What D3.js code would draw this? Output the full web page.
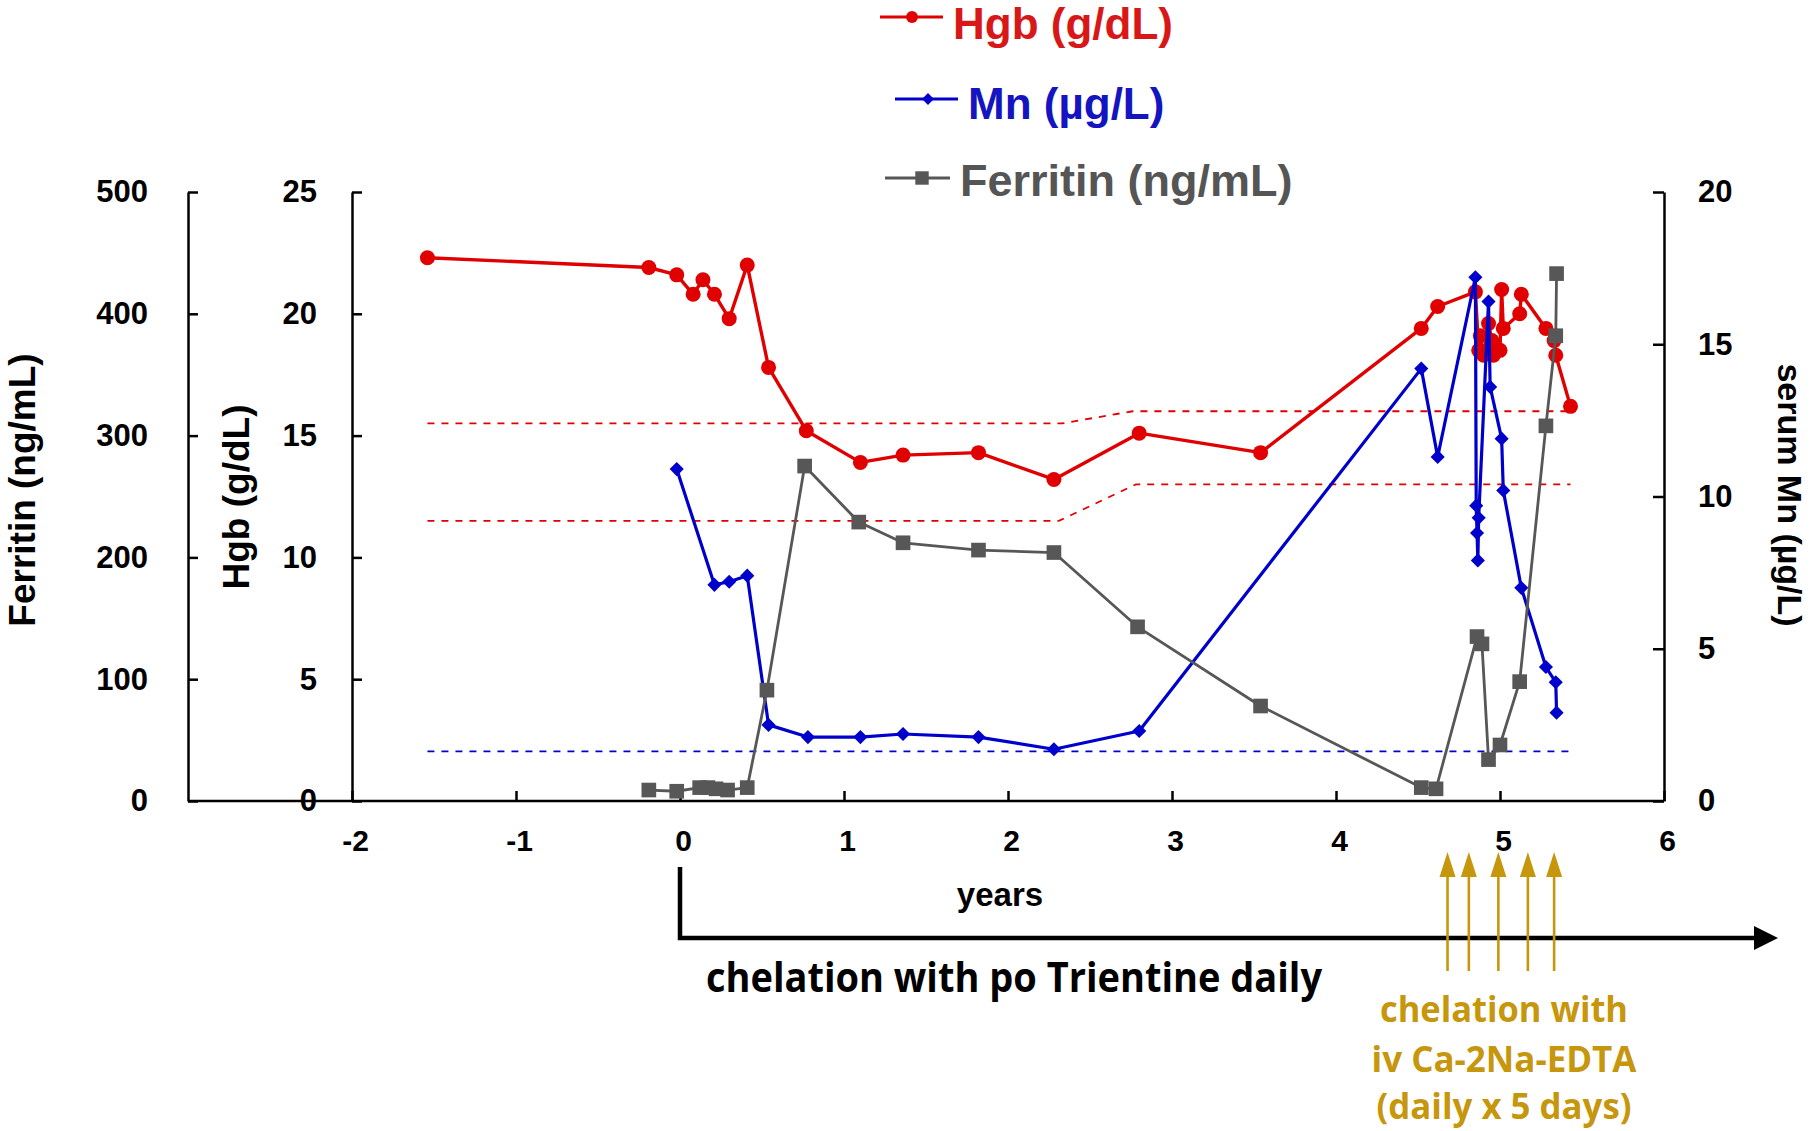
<!DOCTYPE html>
<html>
<head>
<meta charset="utf-8">
<script src="https://cdn.jsdelivr.net/npm/d3@7"></script>
<style>
  body { margin: 0; background: #fff; }
  svg { display: block; }
  text { font-family: "Liberation Sans", Arial, sans-serif; font-weight: bold; }
  .calibri { font-family: "Open Sans", "Noto Sans", sans-serif; font-weight: 700; }
</style>
</head>
<body>
<svg id="chart"></svg>
<script>
// ---- data (years since start of po Trientine) ----
const hgbYears = [-1.54, -0.19, -0.02, 0.08, 0.14, 0.21, 0.30, 0.41, 0.54, 0.77, 1.10, 1.36, 1.82, 2.28, 2.80, 3.54,
                  4.52, 4.62, 4.85, 4.87, 4.88, 4.90, 4.93, 4.95, 4.96, 5.00, 5.01, 5.02, 5.12, 5.13, 5.28, 5.33, 5.34, 5.43];
const hgbValues = [22.3, 21.9, 21.6, 20.8, 21.4, 20.8, 19.8, 22.0, 17.8, 15.2, 13.9, 14.2, 14.3, 13.2, 15.1, 14.3,
                   19.4, 20.3, 20.9, 18.5, 19.1, 18.3, 19.6, 18.9, 18.3, 18.5, 21.0, 19.4, 20.0, 20.8, 19.4, 18.9, 18.3, 16.2];

const mnYears = [-0.02, 0.21, 0.30, 0.41, 0.54, 0.78, 1.10, 1.36, 1.82, 2.28, 2.80, 4.52, 4.62,
                 4.85, 4.855, 4.86, 4.865, 4.87, 4.93, 4.94, 5.01, 5.02, 5.13, 5.28, 5.34, 5.345];
const mnValues = [10.9, 7.1, 7.2, 7.4, 2.5, 2.1, 2.1, 2.2, 2.1, 1.7, 2.3, 14.2, 11.3,
                  17.2, 9.7, 8.8, 7.9, 9.3, 16.4, 13.6, 11.9, 10.2, 7.0, 4.4, 3.9, 2.9];

const ferritinYears = [-0.19, -0.02, 0.12, 0.17, 0.22, 0.29, 0.41, 0.53, 0.76, 1.09, 1.36, 1.82, 2.28, 2.79, 3.54,
                       4.52, 4.61, 4.86, 4.89, 4.93, 5.00, 5.12, 5.28, 5.34, 5.345];
const ferritinValues = [9, 8, 11, 11, 10, 9, 11, 91, 275, 229, 212, 206, 204, 143, 78,
                        11, 10, 135, 129, 34, 46, 98, 308, 382, 433];

// normal ranges (dashed)
const hgbUpperYears = [-1.54, 2.33, 2.76, 5.43];
const hgbUpperValues = [15.5, 15.5, 16.0, 16.0];
const hgbLowerYears = [-1.54, 2.31, 2.78, 5.43];
const hgbLowerValues = [11.5, 11.5, 13.0, 13.0];
const mnRefYears = [-1.54, 5.43];
const mnRefValues = [1.63, 1.63];

// iv Ca-2Na-EDTA courses
const edtaYears = [4.68, 4.81, 4.99, 5.17, 5.33];

const xTicks = [-2, -1, 0, 1, 2, 3, 4, 5, 6];
const ferritinTicks = [0, 100, 200, 300, 400, 500];
const hgbTicks = [0, 5, 10, 15, 20, 25];
const mnTicks = [0, 5, 10, 15, 20];

const legendLabels = ['Hgb (g/dL)', 'Mn (µg/L)', 'Ferritin (ng/mL)'];

// ---- layout ----
const W = 1811, H = 1131;
const plotTop = 192, plotBottom = 801;
const ferritinAxisX = 188;
const red = '#e00000', blue = '#0000cc', grey = '#575757', gold = '#c6960c';

const svg = d3.select('#chart').attr('width', W).attr('height', H);

const x = d3.scaleLinear().domain([-2, 6]).range([352, 1664]);
const yHgb = d3.scaleLinear().domain([0, 25]).range([plotBottom, plotTop]);
const yFerritin = d3.scaleLinear().domain([0, 500]).range([plotBottom, plotTop]);
const yMn = d3.scaleLinear().domain([0, 20]).range([plotBottom, plotTop]);

const plain = d => String(d);   // keep the ascii hyphen for negatives

function styleAxis(g, size) {
  g.attr('font-family', null).attr('font-size', null);
  g.select('.domain').attr('stroke', '#000').attr('stroke-width', 2.5);
  g.selectAll('.tick line').attr('stroke', '#000').attr('stroke-width', 2.5);
  g.selectAll('.tick text').attr('fill', '#000').style('font-size', size + 'px');
}

// axes
svg.append('g')
   .attr('transform', `translate(${ferritinAxisX},0)`)
   .call(d3.axisLeft(yFerritin).tickValues(ferritinTicks).tickFormat(plain)
           .tickSizeInner(-10).tickSizeOuter(0).tickPadding(40))
   .call(g => styleAxis(g, 31));

svg.append('g')
   .attr('transform', `translate(${x(-2)},0)`)
   .call(d3.axisLeft(yHgb).tickValues(hgbTicks).tickFormat(plain)
           .tickSizeInner(-10).tickSizeOuter(0).tickPadding(35))
   .call(g => styleAxis(g, 31));

svg.append('g')
   .attr('transform', `translate(${x(6)},0)`)
   .call(d3.axisRight(yMn).tickValues(mnTicks).tickFormat(plain)
           .tickSizeInner(-11).tickSizeOuter(0).tickPadding(34))
   .call(g => styleAxis(g, 31));

svg.append('g')
   .attr('transform', `translate(0,${plotBottom})`)
   .call(d3.axisBottom(x).tickValues(xTicks).tickFormat(plain)
           .tickSizeInner(-10).tickSizeOuter(0).tickPadding(29))
   .call(g => styleAxis(g, 30))
   .call(g => g.select('.domain').remove())
   .call(g => g.selectAll('.tick text').attr('dx', 3));

svg.append('line')
   .attr('x1', ferritinAxisX).attr('x2', x(6))
   .attr('y1', plotBottom).attr('y2', plotBottom)
   .attr('stroke', '#000').attr('stroke-width', 2.5);

// axis titles
svg.append('text')
   .attr('transform', `translate(35,490) rotate(-90)`)
   .attr('text-anchor', 'middle').style('font-size', '37px')
   .text('Ferritin (ng/mL)');

svg.append('text')
   .attr('transform', `translate(249,497) rotate(-90)`)
   .attr('text-anchor', 'middle').style('font-size', '37px')
   .text('Hgb (g/dL)');

svg.append('text')
   .attr('transform', `translate(1778,495) rotate(90)`)
   .attr('text-anchor', 'middle').style('font-size', '34px')
   .text('serum Mn (µg/L)');

// normal range lines
const dashed = (years, values, yScale, color) => {
  svg.append('path')
     .datum(d3.zip(years, values))
     .attr('d', d3.line().x(d => x(d[0])).y(d => yScale(d[1])))
     .attr('fill', 'none').attr('stroke', color)
     .attr('stroke-width', 1.8).attr('stroke-dasharray', '7,7');
};
dashed(hgbUpperYears, hgbUpperValues, yHgb, red);
dashed(hgbLowerYears, hgbLowerValues, yHgb, red);
dashed(mnRefYears, mnRefValues, yMn, blue);

// series
const series = [
  {years: hgbYears, values: hgbValues, y: yHgb, color: red, width: 3.4, symbol: d3.symbolCircle, size: 177, rotate: 0},
  {years: mnYears, values: mnValues, y: yMn, color: blue, width: 3.2, symbol: d3.symbolSquare, size: 100, rotate: 45},
  {years: ferritinYears, values: ferritinValues, y: yFerritin, color: grey, width: 2.8, symbol: d3.symbolSquare, size: 215, rotate: 0}
];

series.forEach(s => {
  const pts = d3.zip(s.years, s.values);
  svg.append('path')
     .datum(pts)
     .attr('d', d3.line().x(d => x(d[0])).y(d => s.y(d[1])))
     .attr('fill', 'none').attr('stroke', s.color)
     .attr('stroke-width', s.width).attr('stroke-linejoin', 'round');
  svg.append('g').selectAll('path')
     .data(pts)
     .enter()
     .append('path')
     .attr('d', d3.symbol().type(s.symbol).size(s.size))
     .attr('transform', d => `translate(${x(d[0])},${s.y(d[1])}) rotate(${s.rotate})`)
     .attr('fill', s.color);
});

// legend
const legendRows = [
  {x1: 880, x2: 943, mx: 912, y: 17, tx: 953, ty: 39, fs: 44, color: '#d81818', s: series[0], lsize: 110},
  {x1: 895, x2: 958, mx: 928, y: 99, tx: 968, ty: 119, fs: 44, color: '#1414c0', s: series[1], lsize: 70},
  {x1: 885, x2: 950, mx: 922, y: 178, tx: 960, ty: 196, fs: 45, color: '#555555', s: series[2], lsize: 180}
];
legendRows.forEach((r, i) => {
  svg.append('line').attr('x1', r.x1).attr('x2', r.x2).attr('y1', r.y).attr('y2', r.y)
     .attr('stroke', r.s.color).attr('stroke-width', 2.8);
  svg.append('path')
     .attr('d', d3.symbol().type(r.s.symbol).size(r.lsize))
     .attr('transform', `translate(${r.mx},${r.y}) rotate(${r.s.rotate})`)
     .attr('fill', r.s.color);
  svg.append('text').attr('x', r.tx).attr('y', r.ty)
     .style('font-size', r.fs + 'px').attr('fill', r.color)
     .text(legendLabels[i]);
});

// x axis title
svg.append('text')
   .attr('x', 1000).attr('y', 906)
   .attr('text-anchor', 'middle').style('font-size', '33px')
   .text('years');

// po Trientine bracket arrow
const arrowY = 938;
svg.append('path')
   .attr('d', `M${x(0)},867V${arrowY}H1757`)
   .attr('fill', 'none').attr('stroke', '#000').attr('stroke-width', 4.5);
svg.append('path')
   .attr('d', `M1778,${arrowY}L1754,${arrowY - 12}L1754,${arrowY + 12}Z`)
   .attr('fill', '#000');

svg.append('text').attr('class', 'calibri')
   .attr('x', 706).attr('y', 992)
   .attr('textLength', 616).attr('lengthAdjust', 'spacingAndGlyphs')
   .style('font-size', '42px')
   .text('chelation with po Trientine daily');

// EDTA arrows
const edta = svg.append('g');
edta.selectAll('line')
    .data(edtaYears)
    .enter()
    .append('line')
    .attr('x1', d => x(d)).attr('x2', d => x(d))
    .attr('y1', 874).attr('y2', 971)
    .attr('stroke', gold).attr('stroke-width', 2.6);
edta.selectAll('path')
    .data(edtaYears)
    .enter()
    .append('path')
    .attr('d', d => `M${x(d)},852L${x(d) - 8},877L${x(d) + 8},877Z`)
    .attr('fill', gold);

const edtaLines = [
  {text: 'chelation with', y: 1022, len: 248},
  {text: 'iv Ca-2Na-EDTA', y: 1072, len: 265},
  {text: '(daily x 5 days)', y: 1119, len: 255}
];
svg.append('g').selectAll('text')
   .data(edtaLines)
   .enter()
   .append('text')
   .attr('class', 'calibri')
   .attr('x', d => 1504 - d.len / 2).attr('y', d => d.y)
   .attr('textLength', d => d.len).attr('lengthAdjust', 'spacingAndGlyphs')
   .style('font-size', '36px')
   .attr('fill', gold)
   .text(d => d.text);
</script>
</body>
</html>
